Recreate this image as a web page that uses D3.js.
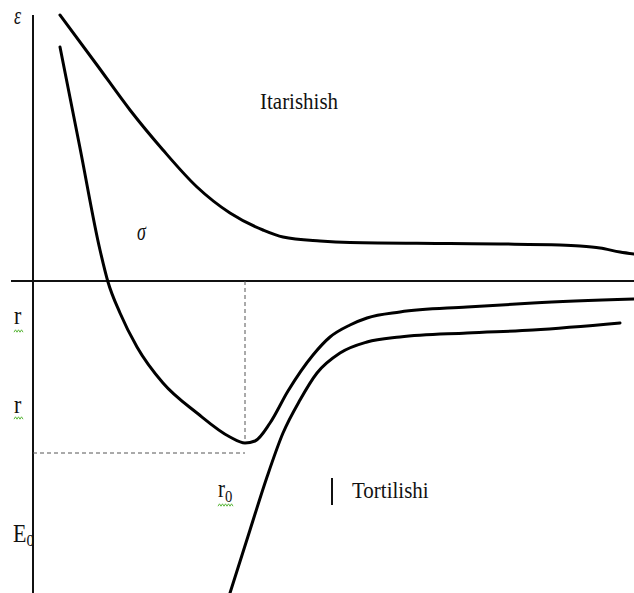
<!DOCTYPE html>
<html>
<head>
<meta charset="utf-8">
<script src="https://cdn.jsdelivr.net/npm/d3@7"></script>
<style>
  html, body { margin: 0; padding: 0; background: #fff; }
  svg { display: block; }
  text { font-family: "Liberation Serif", "Times New Roman", serif; fill: #111; }
</style>
</head>
<body>
<script>
// Interatomic potential energy vs distance r (arbitrary units).
// Repulsive branch ("Itarishish")
const repulsion = [
  [0.27, 2.66], [0.64, 2.16], [0.97, 1.71], [1.30, 1.31], [1.64, 0.94],
  [1.97, 0.68], [2.30, 0.51], [2.50, 0.44], [2.87, 0.40], [3.17, 0.385],
  [4.17, 0.375], [4.67, 0.37], [5.27, 0.36], [5.47, 0.35], [5.67, 0.33],
  [5.87, 0.29], [6.01, 0.27]
];
// Resulting potential with a well at r0
const total = [
  [0.27, 2.34], [0.47, 1.33], [0.67, 0.31], [0.75, -0.01], [0.87, -0.32],
  [1.04, -0.66], [1.30, -1.02], [1.64, -1.32], [1.97, -1.56], [2.12, -1.62],
  [2.22, -1.60], [2.37, -1.42], [2.55, -1.10], [2.80, -0.74], [2.97, -0.56],
  [3.17, -0.44], [3.34, -0.37], [3.67, -0.31], [4.34, -0.26], [5.00, -0.22],
  [6.01, -0.18]
];
// Attractive branch ("Tortilishi")
const attraction = [
  [1.97, -3.12], [2.17, -2.49], [2.34, -1.96], [2.50, -1.52], [2.67, -1.19],
  [2.84, -0.92], [3.07, -0.72], [3.34, -0.61], [3.67, -0.56], [4.34, -0.52],
  [5.00, -0.49], [5.87, -0.42]
];
// Equilibrium distance and the marked energy level
const r0 = 2.12;
const wellEnergy = -1.62;
const levelE = -1.72;

const labels = {
  energy: "\u03B5", sigma: "\u03C3", r: "r", zero: "0", E: "E",
  repulsive: "Itarishish", attractive: "Tortilishi"
};

const W = 634, H = 593;
const svg = d3.select("body").append("svg").attr("width", W).attr("height", H);

const x = d3.scaleLinear().domain([0, 6]).range([33, 633]);
const y = d3.scaleLinear().domain([0, 1]).range([281, 181]);

// Axes
svg.append("line")
  .attr("x1", x(0)).attr("x2", x(0))
  .attr("y1", y(2.66)).attr("y2", H)
  .attr("stroke", "#111").attr("stroke-width", 2);
svg.append("line")
  .attr("x1", x(-0.22)).attr("x2", W)
  .attr("y1", y(0)).attr("y2", y(0))
  .attr("stroke", "#111").attr("stroke-width", 2);

// Dashed guides to the minimum
svg.append("line")
  .attr("x1", x(r0)).attr("x2", x(r0))
  .attr("y1", y(0)).attr("y2", y(wellEnergy))
  .attr("stroke", "#555").attr("stroke-width", 1).attr("stroke-dasharray", "4,3");
svg.append("line")
  .attr("x1", x(0)).attr("x2", x(r0))
  .attr("y1", y(levelE)).attr("y2", y(levelE))
  .attr("stroke", "#555").attr("stroke-width", 1).attr("stroke-dasharray", "4,3");

// Curves
const line = d3.line()
  .x(d => x(d[0])).y(d => y(d[1]))
  .curve(d3.curveMonotoneX);

[repulsion, total, attraction].forEach(s => {
  svg.append("path")
    .attr("d", line(s))
    .attr("fill", "none")
    .attr("stroke", "#000")
    .attr("stroke-width", 3)
    .attr("stroke-linecap", "round")
    .attr("stroke-linejoin", "round");
});

// Text helper: serif text with a vertical stretch
function txt(px, py, str, size, italic, sy) {
  const t = svg.append("text")
    .attr("transform", `translate(${px},${py}) scale(1,${sy || 1.12})`)
    .attr("font-size", size)
    .text(str);
  if (italic) t.attr("font-style", "italic");
  return t;
}
function sub(px, py, main, s, size, sy) {
  const t = svg.append("text")
    .attr("transform", `translate(${px},${py}) scale(1,${sy || 1.12})`)
    .attr("font-size", size);
  t.append("tspan").text(main);
  t.append("tspan").attr("font-size", size * 0.7).attr("dy", 4).text(s);
  return t;
}
function squiggle(x0, x1, yy) {
  const pts = [];
  for (let xx = x0, k = 0; xx <= x1; xx += 1.5, k++) pts.push([xx, yy + (k % 2 ? -1.2 : 1.2)]);
  svg.append("path").attr("d", d3.line()(pts))
    .attr("fill", "none").attr("stroke", "#5cb83c").attr("stroke-width", 1);
}

txt(14, 24, labels.energy, 18, true, 1.45);
txt(137, 240, labels.sigma, 18, true, 1.45);
txt(260, 109, labels.repulsive, 21, false);
txt(352, 498, labels.attractive, 21, false);

txt(14, 324, labels.r, 22, false, 1.15); squiggle(14, 24, 331);
txt(14, 413, labels.r, 22, false, 1.15); squiggle(14, 24, 418);
sub(218, 497, labels.r, labels.zero, 21, 1.15); squiggle(218, 234, 505);
sub(13, 542, labels.E, labels.zero, 22);

// Marker bar before the attractive label
svg.append("line")
  .attr("x1", 332).attr("x2", 332).attr("y1", 478).attr("y2", 505)
  .attr("stroke", "#111").attr("stroke-width", 2);
</script>
</body>
</html>
